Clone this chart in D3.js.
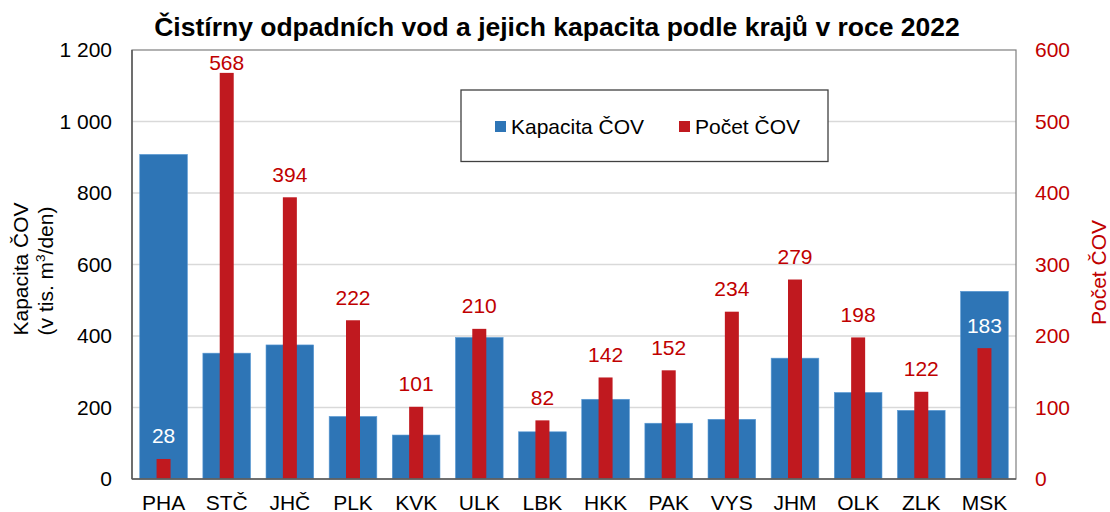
<!DOCTYPE html>
<html><head><meta charset="utf-8">
<script src="https://cdn.jsdelivr.net/npm/d3@7"></script>
<style>body{margin:0;background:#fff}svg{display:block;font-family:Arial,"Liberation Sans",sans-serif}</style>
</head><body><svg id="c" width="1110" height="512"></svg>
<script>
const categories = ["PHA","STČ","JHČ","PLK","KVK","ULK","LBK","HKK","PAK","VYS","JHM","OLK","ZLK","MSK"];
const kapacita = [908,352,375,175,123,396,132,223,156,167,338,242,192,525];
const pocet = [28,568,394,222,101,210,82,142,152,234,279,198,122,183];
const leftTicks = [0,200,400,600,800,1000,1200];
const rightTicks = [0,100,200,300,400,500,600];
const title = "Čistírny odpadních vod a jejich kapacita podle krajů v roce 2022";

const FF = "Arial,'Liberation Sans',sans-serif";
const FS = 21;
const svg = d3.select("#c");
const m = {l:132, r:1016, t:50, b:479};
const blue = "#2E75B6", red = "#C0191F", redText = "#C00000";
const x = d3.scaleBand().domain(categories).range([m.l, m.r]).paddingInner(0.245).paddingOuter(0.1225);
const yL = d3.scaleLinear().domain([0,1200]).range([m.b, m.t]);
const yR = d3.scaleLinear().domain([0,600]).range([m.b, m.t]);
const fmt = v => d3.format(",")(v).replace(/,/g, " ");

// gridlines
svg.append("g").selectAll("line").data(leftTicks.filter(d=>d>0 && d<1200)).join("line")
  .attr("x1", m.l).attr("x2", m.r).attr("y1", d=>yL(d)).attr("y2", d=>yL(d))
  .attr("stroke", "#d9d9d9").attr("stroke-width", 1.3);

// blue bars
svg.append("g").selectAll("rect").data(categories).join("rect")
  .attr("x", d=>x(d)).attr("width", x.bandwidth())
  .attr("y", (d,i)=>yL(kapacita[i])).attr("height", (d,i)=>m.b - yL(kapacita[i]))
  .attr("fill", blue).attr("stroke", "#5b9bd5").attr("stroke-width", 0.6);

// red bars
const rw = 14;
svg.append("g").selectAll("rect").data(categories).join("rect")
  .attr("x", d=>x(d) + x.bandwidth()/2 - rw/2).attr("width", rw)
  .attr("y", (d,i)=>yR(pocet[i])).attr("height", (d,i)=>m.b - yR(pocet[i]))
  .attr("fill", red);

// labels
svg.append("g").selectAll("text").data(categories).join("text")
  .attr("x", d=>x(d) + x.bandwidth()/2)
  .attr("y", (d,i)=>Math.max(yR(pocet[i]) - 15.5, 70))
  .attr("text-anchor", "middle").attr("font-size", FS)
  .attr("fill", (d,i)=> (yR(pocet[i]) - 20 > yL(kapacita[i])) ? "#fff" : redText)
  .text((d,i)=>pocet[i]);

// frame
svg.append("rect").attr("x", m.l).attr("y", m.t).attr("width", m.r-m.l).attr("height", m.b-m.t)
  .attr("fill", "none").attr("stroke", "#7f7f7f").attr("stroke-width", 1.2);
svg.append("line").attr("x1", m.l).attr("x2", m.r).attr("y1", m.b).attr("y2", m.b).attr("stroke", "#595959").attr("stroke-width", 1.5);
svg.append("line").attr("x1", m.l).attr("x2", m.l).attr("y1", m.t).attr("y2", m.b).attr("stroke", "#595959").attr("stroke-width", 1.5);

// axes
const axL = svg.append("g").attr("transform", `translate(${m.l},0)`)
  .call(d3.axisLeft(yL).tickValues(leftTicks).tickFormat(fmt).tickSize(0).tickPadding(20));
axL.select(".domain").remove();
axL.selectAll("text").attr("font-size", FS).attr("fill", "#000").attr("font-family", FF);
const axR = svg.append("g").attr("transform", `translate(${m.r},0)`)
  .call(d3.axisRight(yR).tickValues(rightTicks).tickSize(0).tickPadding(19));
axR.select(".domain").remove();
axR.selectAll("text").attr("font-size", FS).attr("fill", redText).attr("font-family", FF);
const axB = svg.append("g").attr("transform", `translate(0,${m.b})`)
  .call(d3.axisBottom(x).tickSize(0).tickPadding(0));
axB.select(".domain").remove();
axB.selectAll("text").attr("dy", null).attr("y", 30.5).attr("font-size", FS).attr("fill", "#000").attr("font-family", FF);

// title
svg.append("text").attr("x", 557).attr("y", 36).attr("text-anchor", "middle")
  .attr("font-size", 26.5).attr("font-weight", "bold").text(title);

// axis titles
svg.append("text").attr("transform", `translate(27.5,269) rotate(-90)`).attr("text-anchor","middle")
  .attr("font-size", FS).text("Kapacita ČOV");
const t2 = svg.append("text").attr("transform", `translate(52.5,271) rotate(-90)`).attr("text-anchor","middle")
  .attr("font-size", FS);
t2.append("tspan").text("(v tis. m");
t2.append("tspan").attr("font-size", 13.5).attr("dy", -8).text("3");
t2.append("tspan").attr("dy", 8).text("/den)");
svg.append("text").attr("transform", `translate(1106,272.5) rotate(-90)`).attr("text-anchor","middle")
  .attr("font-size", FS).attr("fill", redText).text("Počet ČOV");

// legend
const lg = svg.append("g");
lg.append("rect").attr("x", 461).attr("y", 90).attr("width", 367).attr("height", 71.5)
  .attr("fill", "#fff").attr("stroke", "#404040").attr("stroke-width", 1.3);
const legendItems = [{name:"Kapacita ČOV", c:blue, x:495},{name:"Počet ČOV", c:red, x:679}];
legendItems.forEach(it=>{
  lg.append("rect").attr("x", it.x).attr("y", 121).attr("width", 11).attr("height", 11).attr("fill", it.c);
  lg.append("text").attr("x", it.x+16).attr("y", 133.5).attr("font-size", FS).text(it.name);
});
</script></body></html>
